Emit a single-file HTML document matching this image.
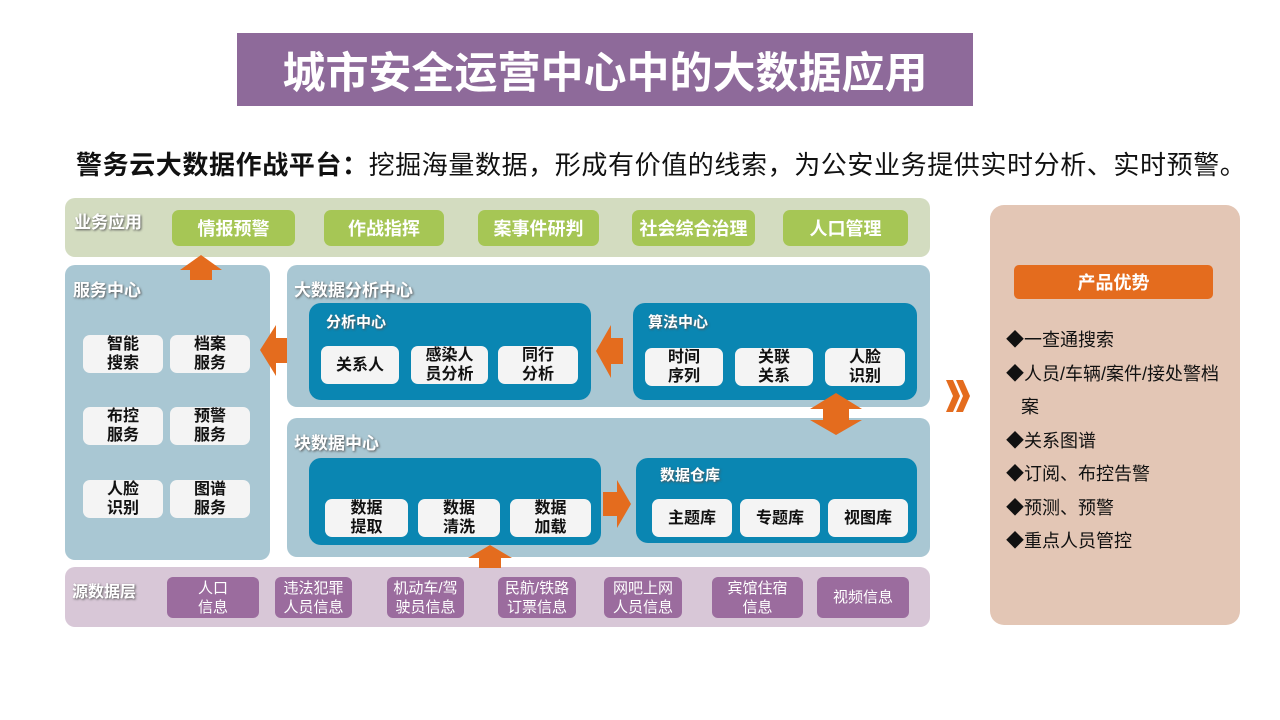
<!DOCTYPE html>
<html><head><meta charset="utf-8"><style>
*{margin:0;padding:0;box-sizing:border-box}
body{width:1280px;height:720px;background:#fff;position:relative;overflow:hidden;font-family:"Liberation Sans","Noto Sans CJK SC",sans-serif}
.a{position:absolute}
.c{display:flex;align-items:center;justify-content:center;text-align:center}
.g{background:#a6c655;color:#fff;font-weight:bold;font-size:18px;border-radius:7px}
.w{background:#f4f4f4;color:#111;font-size:16px;line-height:19px;border-radius:7px;font-weight:bold}
.p{background:#9b6c9e;color:#fff;font-size:15px;line-height:19px;border-radius:6px}
.lab{color:#fff;font-weight:bold;font-size:17px;text-shadow:1px 1px 2px #555}
.db{background:#0a86b2;border-radius:12px}
</style></head><body>
<div class="a c" style="left:237px;top:33px;width:736px;height:73px;background:#8e6a9a;color:#fff;font-weight:bold;font-size:43px">城市安全运营中心中的大数据应用</div>
<div class="a" style="left:76px;top:145px;font-size:26px;letter-spacing:0.6px;color:#111;white-space:nowrap"><b>警务云大数据作战平台：</b>挖掘海量数据，形成有价值的线索，为公安业务提供实时分析、实时预警。</div>

<div class="a" style="left:65px;top:198px;width:865px;height:59px;background:#d3dcc0;border-radius:10px"></div>
<div class="a lab" style="left:74px;top:208px">业务应用</div>
<div class="a c g" style="left:172px;top:210px;width:123px;height:36px">情报预警</div>
<div class="a c g" style="left:324px;top:210px;width:120px;height:36px">作战指挥</div>
<div class="a c g" style="left:478px;top:210px;width:121px;height:36px">案事件研判</div>
<div class="a c g" style="left:632px;top:210px;width:123px;height:36px">社会综合治理</div>
<div class="a c g" style="left:783px;top:210px;width:125px;height:36px">人口管理</div>

<div class="a" style="left:65px;top:265px;width:205px;height:295px;background:#a9c7d3;border-radius:10px"></div>
<div class="a lab" style="left:73px;top:276px">服务中心</div>
<div class="a c w" style="left:83px;top:335px;width:80px;height:38px">智能<br>搜索</div>
<div class="a c w" style="left:170px;top:335px;width:80px;height:38px">档案<br>服务</div>
<div class="a c w" style="left:83px;top:407px;width:80px;height:38px">布控<br>服务</div>
<div class="a c w" style="left:170px;top:407px;width:80px;height:38px">预警<br>服务</div>
<div class="a c w" style="left:83px;top:480px;width:80px;height:38px">人脸<br>识别</div>
<div class="a c w" style="left:170px;top:480px;width:80px;height:38px">图谱<br>服务</div>

<div class="a" style="left:287px;top:265px;width:643px;height:142px;background:#a9c7d3;border-radius:10px"></div>
<div class="a lab" style="left:294px;top:276px">大数据分析中心</div>
<div class="a db" style="left:309px;top:303px;width:282px;height:97px"></div>
<div class="a lab" style="left:326px;top:311px;font-size:15px">分析中心</div>
<div class="a c w" style="left:321px;top:346px;width:78px;height:38px">关系人</div>
<div class="a c w" style="left:411px;top:346px;width:77px;height:38px">感染人<br>员分析</div>
<div class="a c w" style="left:498px;top:346px;width:80px;height:38px">同行<br>分析</div>
<div class="a db" style="left:633px;top:303px;width:284px;height:97px"></div>
<div class="a lab" style="left:648px;top:311px;font-size:15px">算法中心</div>
<div class="a c w" style="left:645px;top:348px;width:78px;height:38px">时间<br>序列</div>
<div class="a c w" style="left:735px;top:348px;width:78px;height:38px">关联<br>关系</div>
<div class="a c w" style="left:825px;top:348px;width:80px;height:38px">人脸<br>识别</div>

<div class="a" style="left:287px;top:418px;width:643px;height:139px;background:#a9c7d3;border-radius:10px"></div>
<div class="a lab" style="left:294px;top:429px">块数据中心</div>
<div class="a db" style="left:309px;top:458px;width:292px;height:87px"></div>
<div class="a c w" style="left:325px;top:499px;width:83px;height:38px">数据<br>提取</div>
<div class="a c w" style="left:418px;top:499px;width:82px;height:38px">数据<br>清洗</div>
<div class="a c w" style="left:510px;top:499px;width:81px;height:38px">数据<br>加载</div>
<div class="a db" style="left:636px;top:458px;width:281px;height:85px"></div>
<div class="a lab" style="left:660px;top:464px;font-size:15px">数据仓库</div>
<div class="a c w" style="left:652px;top:499px;width:80px;height:38px">主题库</div>
<div class="a c w" style="left:740px;top:499px;width:80px;height:38px">专题库</div>
<div class="a c w" style="left:828px;top:499px;width:80px;height:38px">视图库</div>

<div class="a" style="left:65px;top:567px;width:865px;height:60px;background:#d8c7d7;border-radius:10px"></div>
<div class="a lab" style="left:72px;top:578px;font-size:16px">源数据层</div>
<div class="a c p" style="left:167px;top:577px;width:92px;height:41px">人口<br>信息</div>
<div class="a c p" style="left:275px;top:577px;width:77px;height:41px">违法犯罪<br>人员信息</div>
<div class="a c p" style="left:387px;top:577px;width:77px;height:41px">机动车/驾<br>驶员信息</div>
<div class="a c p" style="left:498px;top:577px;width:78px;height:41px">民航/铁路<br>订票信息</div>
<div class="a c p" style="left:604px;top:577px;width:78px;height:41px">网吧上网<br>人员信息</div>
<div class="a c p" style="left:712px;top:577px;width:91px;height:41px">宾馆住宿<br>信息</div>
<div class="a c p" style="left:817px;top:577px;width:92px;height:41px">视频信息</div>

<svg class="a" style="left:0;top:0" width="1280" height="720">
<polygon points="201,255 222,270 212,270 212,280 190,280 190,270 180,270" fill="#e46c1e"/>
<polygon points="260,350 276,325 276,338 287,338 287,363 276,363 276,376" fill="#e46c1e"/>
<polygon points="596,351 611,325 611,338 623,338 623,364 611,364 611,378" fill="#e46c1e"/>
<polygon points="836,393 862,409 849,409 849,420 862,420 836,435 810,420 823,420 823,409 810,409" fill="#e46c1e"/>
<polygon points="631,504 617,480 617,492 603,492 603,516 617,516 617,528" fill="#e46c1e"/>
<polygon points="490,545 512,558 501,558 501,568 479,568 479,558 468,558" fill="#e46c1e"/>
<polygon points="946,380 953,380 960,396 953,412 946,412 953,396" fill="#e46c1e"/>
<polygon points="956,380 963,380 970,396 963,412 956,412 963,396" fill="#e46c1e"/>
</svg>

<div class="a" style="left:990px;top:205px;width:250px;height:420px;background:#e3c6b5;border-radius:14px"></div>
<div class="a c" style="left:1014px;top:265px;width:199px;height:34px;background:#e46c1e;border-radius:5px;color:#fff;font-weight:bold;font-size:18px">产品优势</div>
<div class="a" style="left:1006px;top:324px;font-size:18px;line-height:33.5px;color:#111">
◆一查通搜索<br>◆人员/车辆/案件/接处警档<br>&nbsp;&nbsp;&nbsp;案<br>◆关系图谱<br>◆订阅、布控告警<br>◆预测、预警<br>◆重点人员管控</div>
</body></html>
